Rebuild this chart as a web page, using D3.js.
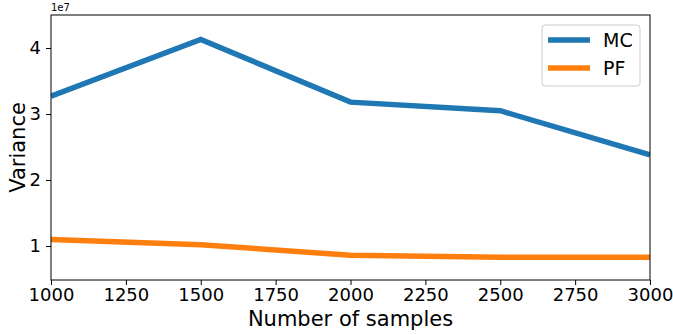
<!DOCTYPE html>
<html>
<head>
<meta charset="utf-8">
<script src="https://cdn.jsdelivr.net/npm/d3@7"></script>
<style>
  body { margin: 0; background: #fff; }
  text { font-family: "DejaVu Sans", sans-serif; fill: #000; }
</style>
</head>
<body>
<div id="chart"></div>
<script>
// samples and variance (variance in units of 1e7)
var samples = [1000, 1500, 2000, 2500, 3000];
var mcVariance = [3.27, 4.13, 3.18, 3.05, 2.38];
var pfVariance = [1.10, 1.02, 0.86, 0.83, 0.83];
var seriesNames = ["MC", "PF"];
var xTicks = [1000, 1250, 1500, 1750, 2000, 2250, 2500, 2750, 3000];
var yTicks = [1, 2, 3, 4];

var svgWidth = 673, svgHeight = 335;
var margin = { top: 15, right: 23, bottom: 55, left: 51 };
var width = svgWidth - margin.left - margin.right;
var height = svgHeight - margin.top - margin.bottom;

var svg = d3.select("#chart").append("svg")
  .attr("width", svgWidth)
  .attr("height", svgHeight);

var chartGroup = svg.append("g")
  .attr("transform", `translate(${margin.left}, ${margin.top})`);

var xScale = d3.scaleLinear().domain([1000, 3000]).range([0, width]);
var yScale = d3.scaleLinear().domain([0.485, 4.5]).range([height, 0]);

// lines
var line = d3.line()
  .x(d => xScale(d[0]))
  .y(d => yScale(d[1]));

var series = [
  { name: seriesNames[0], color: "#1f77b4", values: mcVariance },
  { name: seriesNames[1], color: "#ff7f0e", values: pfVariance }
];

chartGroup.append("clipPath").attr("id", "clip")
  .append("rect").attr("width", width).attr("height", height);

chartGroup.selectAll(".series")
  .data(series)
  .enter()
  .append("path")
  .attr("clip-path", "url(#clip)")
  .attr("d", s => line(samples.map((x, i) => [x, s.values[i]])))
  .attr("fill", "none")
  .attr("stroke", s => s.color)
  .attr("stroke-width", 5.5)
  .attr("stroke-linejoin", "miter");

// axes
var xAxis = d3.axisBottom(xScale).tickValues(xTicks).tickSize(5).tickPadding(5)
  .tickFormat(d3.format("d"));
var yAxis = d3.axisLeft(yScale).tickValues(yTicks).tickSize(5).tickPadding(5)
  .tickFormat(d3.format("d"));

var gx = chartGroup.append("g")
  .attr("transform", `translate(0, ${height})`)
  .call(xAxis);
var gy = chartGroup.append("g").call(yAxis);

[gx, gy].forEach(function(g) {
  g.select(".domain").remove();
  g.selectAll("line").attr("stroke", "#000").attr("stroke-width", 1);
  g.selectAll("text").attr("font-size", 18).attr("font-family", "DejaVu Sans").attr("fill", "#000");
});
gx.selectAll("text").attr("dy", "0.6em");

// frame
chartGroup.append("rect")
  .attr("width", width)
  .attr("height", height)
  .attr("fill", "none")
  .attr("stroke", "#000")
  .attr("stroke-width", 1);

// offset text
chartGroup.append("text")
  .attr("x", 0)
  .attr("y", -4)
  .attr("font-size", 10)
  .text("1e7");

// axis labels
svg.append("text")
  .attr("x", margin.left + width / 2)
  .attr("y", 326)
  .attr("text-anchor", "middle")
  .attr("font-size", 21)
  .text("Number of samples");

svg.append("text")
  .attr("transform", `translate(25, ${margin.top + height / 2}) rotate(-90)`)
  .attr("text-anchor", "middle")
  .attr("font-size", 21)
  .text("Variance");

// legend
var legend = svg.append("g").attr("transform", "translate(542, 25)");
legend.append("rect")
  .attr("width", 98)
  .attr("height", 61)
  .attr("rx", 3)
  .attr("fill", "#fff")
  .attr("fill-opacity", 0.8)
  .attr("stroke", "#ccc")
  .attr("stroke-width", 1);

var items = legend.selectAll(".item")
  .data(series)
  .enter()
  .append("g")
  .attr("transform", (d, i) => `translate(0, ${15 + i * 28})`);

items.append("line")
  .attr("x1", 6).attr("x2", 48)
  .attr("stroke", d => d.color)
  .attr("stroke-width", 5.5);

items.append("text")
  .attr("x", 61)
  .attr("dy", "0.35em")
  .attr("font-size", 19)
  .text(d => d.name);
</script>
</body>
</html>
